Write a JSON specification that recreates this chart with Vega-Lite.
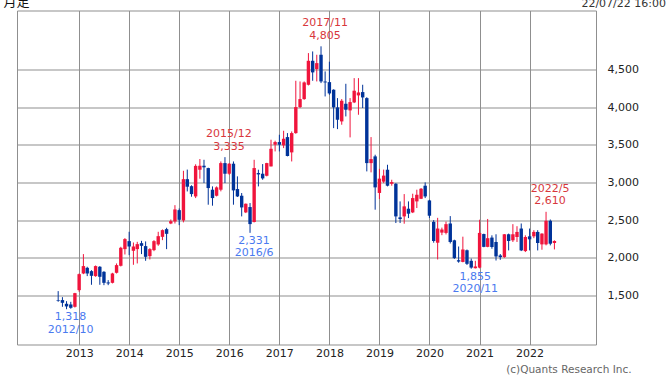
{
  "$schema": "https://vega.github.io/schema/vega-lite/v6.json",
  "width": 579,
  "height": 334,
  "autosize": {"type": "none"},
  "padding": {"left": 17, "top": 10.5, "right": 71, "bottom": 41.5},
  "background": "white",
  "title": {"text": "22/07/22 16:00", "anchor": "end", "frame": "group", "orient": "top", "dx": 70, "offset": -13, "font": "DejaVu Sans", "fontSize": 11, "fontWeight": "normal", "color": "#333"},
  "config": {
    "view": {"stroke": "#8f8f8f", "strokeWidth": 1},
    "axis": {"labelFont": "DejaVu Sans", "labelFontSize": 11, "labelColor": "#222", "gridColor": "#8f8f8f", "gridWidth": 1, "gridOpacity": 1, "ticks": false, "domain": false}
  },
  "datasets": {
    "ohlc": [
      {"d": "2012-08-01", "o": 1440, "h": 1558, "l": 1417, "c": 1432},
      {"d": "2012-09-01", "o": 1439, "h": 1478, "l": 1350, "c": 1403},
      {"d": "2012-10-01", "o": 1390, "h": 1425, "l": 1318, "c": 1355},
      {"d": "2012-11-01", "o": 1381, "h": 1416, "l": 1324, "c": 1337},
      {"d": "2012-12-01", "o": 1350, "h": 1535, "l": 1340, "c": 1531},
      {"d": "2013-01-01", "o": 1571, "h": 1792, "l": 1549, "c": 1783},
      {"d": "2013-02-01", "o": 1792, "h": 2049, "l": 1783, "c": 1890},
      {"d": "2013-03-01", "o": 1867, "h": 1881, "l": 1757, "c": 1792},
      {"d": "2013-04-01", "o": 1823, "h": 1836, "l": 1642, "c": 1761},
      {"d": "2013-05-01", "o": 1757, "h": 1898, "l": 1748, "c": 1890},
      {"d": "2013-06-01", "o": 1881, "h": 1890, "l": 1642, "c": 1748},
      {"d": "2013-07-01", "o": 1814, "h": 1823, "l": 1637, "c": 1668},
      {"d": "2013-08-01", "o": 1673, "h": 1704, "l": 1637, "c": 1660},
      {"d": "2013-09-01", "o": 1668, "h": 1801, "l": 1660, "c": 1792},
      {"d": "2013-10-01", "o": 1801, "h": 1925, "l": 1792, "c": 1903},
      {"d": "2013-11-01", "o": 1894, "h": 2146, "l": 1885, "c": 2133},
      {"d": "2013-12-01", "o": 2115, "h": 2261, "l": 2044, "c": 2248},
      {"d": "2014-01-01", "o": 2221, "h": 2345, "l": 2035, "c": 2150},
      {"d": "2014-02-01", "o": 2093, "h": 2203, "l": 1907, "c": 2150},
      {"d": "2014-03-01", "o": 2115, "h": 2212, "l": 1925, "c": 2181},
      {"d": "2014-04-01", "o": 2194, "h": 2225, "l": 2049, "c": 2159},
      {"d": "2014-05-01", "o": 2155, "h": 2217, "l": 1960, "c": 2013},
      {"d": "2014-06-01", "o": 2022, "h": 2128, "l": 1978, "c": 2115},
      {"d": "2014-07-01", "o": 2102, "h": 2234, "l": 2088, "c": 2221},
      {"d": "2014-08-01", "o": 2177, "h": 2345, "l": 2159, "c": 2287},
      {"d": "2014-09-01", "o": 2278, "h": 2376, "l": 2234, "c": 2367},
      {"d": "2014-10-01", "o": 2380, "h": 2398, "l": 2115, "c": 2318},
      {"d": "2014-11-01", "o": 2455, "h": 2508, "l": 2446, "c": 2486},
      {"d": "2014-12-01", "o": 2482, "h": 2698, "l": 2455, "c": 2641},
      {"d": "2015-01-01", "o": 2632, "h": 2654, "l": 2433, "c": 2504},
      {"d": "2015-02-01", "o": 2495, "h": 3154, "l": 2470, "c": 3043},
      {"d": "2015-03-01", "o": 3043, "h": 3170, "l": 2880, "c": 2943},
      {"d": "2015-04-01", "o": 2950, "h": 2962, "l": 2810, "c": 2845},
      {"d": "2015-05-01", "o": 2814, "h": 3240, "l": 2792, "c": 3219},
      {"d": "2015-06-01", "o": 3168, "h": 3310, "l": 3049, "c": 3221},
      {"d": "2015-07-01", "o": 3221, "h": 3300, "l": 2991, "c": 3200},
      {"d": "2015-08-01", "o": 3190, "h": 3195, "l": 2704, "c": 2925},
      {"d": "2015-09-01", "o": 2903, "h": 2947, "l": 2691, "c": 2792},
      {"d": "2015-10-01", "o": 2823, "h": 2947, "l": 2814, "c": 2934},
      {"d": "2015-11-01", "o": 2903, "h": 3278, "l": 2881, "c": 3256},
      {"d": "2015-12-01", "o": 3256, "h": 3335, "l": 2991, "c": 3115},
      {"d": "2016-01-01", "o": 3115, "h": 3256, "l": 3100, "c": 3248},
      {"d": "2016-02-01", "o": 3248, "h": 3278, "l": 2704, "c": 2894},
      {"d": "2016-03-01", "o": 2912, "h": 3080, "l": 2806, "c": 2814},
      {"d": "2016-04-01", "o": 2823, "h": 2859, "l": 2549, "c": 2668},
      {"d": "2016-05-01", "o": 2602, "h": 2720, "l": 2593, "c": 2717},
      {"d": "2016-06-01", "o": 2673, "h": 2726, "l": 2331, "c": 2447},
      {"d": "2016-07-01", "o": 2474, "h": 3300, "l": 2470, "c": 3190},
      {"d": "2016-08-01", "o": 3124, "h": 3168, "l": 2947, "c": 3106},
      {"d": "2016-09-01", "o": 3115, "h": 3243, "l": 3035, "c": 3053},
      {"d": "2016-10-01", "o": 3088, "h": 3260, "l": 3080, "c": 3256},
      {"d": "2016-11-01", "o": 3212, "h": 3566, "l": 3212, "c": 3446},
      {"d": "2016-12-01", "o": 3500, "h": 3553, "l": 3411, "c": 3535},
      {"d": "2017-01-01", "o": 3535, "h": 3632, "l": 3411, "c": 3500},
      {"d": "2017-02-01", "o": 3491, "h": 3685, "l": 3455, "c": 3579},
      {"d": "2017-03-01", "o": 3601, "h": 3654, "l": 3345, "c": 3350},
      {"d": "2017-04-01", "o": 3398, "h": 3676, "l": 3278, "c": 3654},
      {"d": "2017-05-01", "o": 3654, "h": 4348, "l": 3645, "c": 3999},
      {"d": "2017-06-01", "o": 3999, "h": 4339, "l": 3986, "c": 4105},
      {"d": "2017-07-01", "o": 4105, "h": 4339, "l": 4096, "c": 4326},
      {"d": "2017-08-01", "o": 4295, "h": 4715, "l": 4286, "c": 4613},
      {"d": "2017-09-01", "o": 4613, "h": 4737, "l": 4348, "c": 4459},
      {"d": "2017-10-01", "o": 4503, "h": 4693, "l": 4339, "c": 4582},
      {"d": "2017-11-01", "o": 4693, "h": 4805, "l": 4317, "c": 4339},
      {"d": "2017-12-01", "o": 4338, "h": 4472, "l": 4140, "c": 4326},
      {"d": "2018-01-01", "o": 4330, "h": 4601, "l": 4162, "c": 4180},
      {"d": "2018-02-01", "o": 4229, "h": 4235, "l": 3720, "c": 3995},
      {"d": "2018-03-01", "o": 3995, "h": 4118, "l": 3707, "c": 3831},
      {"d": "2018-04-01", "o": 3809, "h": 4105, "l": 3765, "c": 4083},
      {"d": "2018-05-01", "o": 4043, "h": 4308, "l": 3875, "c": 3964},
      {"d": "2018-06-01", "o": 3955, "h": 4118, "l": 3597, "c": 4065},
      {"d": "2018-07-01", "o": 4061, "h": 4383, "l": 4052, "c": 4216},
      {"d": "2018-08-01", "o": 4154, "h": 4383, "l": 3897, "c": 4193},
      {"d": "2018-09-01", "o": 4198, "h": 4295, "l": 3986, "c": 4127},
      {"d": "2018-10-01", "o": 4118, "h": 4130, "l": 3146, "c": 3256},
      {"d": "2018-11-01", "o": 3256, "h": 3601, "l": 3133, "c": 3309},
      {"d": "2018-12-01", "o": 3345, "h": 3367, "l": 2638, "c": 2934},
      {"d": "2019-01-01", "o": 2860, "h": 3180, "l": 2780, "c": 3050},
      {"d": "2019-02-01", "o": 3010, "h": 3170, "l": 2990, "c": 3090},
      {"d": "2019-03-01", "o": 3168, "h": 3234, "l": 2947, "c": 2956},
      {"d": "2019-04-01", "o": 2982, "h": 3035, "l": 2956, "c": 3004},
      {"d": "2019-05-01", "o": 2982, "h": 2990, "l": 2461, "c": 2549},
      {"d": "2019-06-01", "o": 2536, "h": 2748, "l": 2461, "c": 2514},
      {"d": "2019-07-01", "o": 2549, "h": 2845, "l": 2452, "c": 2682},
      {"d": "2019-08-01", "o": 2651, "h": 2748, "l": 2527, "c": 2585},
      {"d": "2019-09-01", "o": 2602, "h": 2850, "l": 2593, "c": 2792},
      {"d": "2019-10-01", "o": 2748, "h": 2903, "l": 2660, "c": 2836},
      {"d": "2019-11-01", "o": 2783, "h": 2925, "l": 2779, "c": 2916},
      {"d": "2019-12-01", "o": 2956, "h": 3000, "l": 2792, "c": 2814},
      {"d": "2020-01-01", "o": 2761, "h": 2770, "l": 2527, "c": 2558},
      {"d": "2020-02-01", "o": 2477, "h": 2500, "l": 2200, "c": 2223},
      {"d": "2020-03-01", "o": 2200, "h": 2530, "l": 1978, "c": 2388},
      {"d": "2020-04-01", "o": 2334, "h": 2400, "l": 2300, "c": 2375},
      {"d": "2020-05-01", "o": 2330, "h": 2480, "l": 2310, "c": 2446},
      {"d": "2020-06-01", "o": 2455, "h": 2553, "l": 2190, "c": 2210},
      {"d": "2020-07-01", "o": 2232, "h": 2240, "l": 1985, "c": 1996},
      {"d": "2020-08-01", "o": 1968, "h": 2150, "l": 1935, "c": 1950},
      {"d": "2020-09-01", "o": 1945, "h": 2280, "l": 1940, "c": 2110},
      {"d": "2020-10-01", "o": 2100, "h": 2110, "l": 1905, "c": 1920},
      {"d": "2020-11-01", "o": 1960, "h": 1990, "l": 1855, "c": 1870},
      {"d": "2020-12-01", "o": 1862, "h": 1960, "l": 1858, "c": 1885},
      {"d": "2021-01-01", "o": 1870, "h": 2505, "l": 1860, "c": 2330},
      {"d": "2021-02-01", "o": 2315, "h": 2320, "l": 2140, "c": 2145},
      {"d": "2021-03-01", "o": 2145, "h": 2515, "l": 2140, "c": 2260},
      {"d": "2021-04-01", "o": 2268, "h": 2298, "l": 2120, "c": 2143},
      {"d": "2021-05-01", "o": 2210, "h": 2312, "l": 1964, "c": 2018},
      {"d": "2021-06-01", "o": 2031, "h": 2050, "l": 1973, "c": 2009},
      {"d": "2021-07-01", "o": 2009, "h": 2315, "l": 2000, "c": 2312},
      {"d": "2021-08-01", "o": 2312, "h": 2321, "l": 2098, "c": 2223},
      {"d": "2021-09-01", "o": 2232, "h": 2446, "l": 2210, "c": 2312},
      {"d": "2021-10-01", "o": 2276, "h": 2419, "l": 2210, "c": 2343},
      {"d": "2021-11-01", "o": 2388, "h": 2455, "l": 2089, "c": 2098},
      {"d": "2021-12-01", "o": 2089, "h": 2298, "l": 2076, "c": 2276},
      {"d": "2022-01-01", "o": 2285, "h": 2388, "l": 2098, "c": 2245},
      {"d": "2022-02-01", "o": 2285, "h": 2366, "l": 2260, "c": 2343},
      {"d": "2022-03-01", "o": 2343, "h": 2366, "l": 2098, "c": 2196},
      {"d": "2022-04-01", "o": 2178, "h": 2325, "l": 2107, "c": 2321},
      {"d": "2022-05-01", "o": 2178, "h": 2610, "l": 2165, "c": 2491},
      {"d": "2022-06-01", "o": 2491, "h": 2508, "l": 2165, "c": 2187},
      {"d": "2022-07-01", "o": 2196, "h": 2232, "l": 2111, "c": 2223}
    ],
    "highs": [
      {"d": "2015-12-01", "p": 3335, "t": "2015/12\n3,335"},
      {"d": "2017-11-01", "p": 4805, "t": "2017/11\n4,805"},
      {"d": "2022-05-01", "p": 2610, "t": "2022/5\n2,610"}
    ],
    "lows": [
      {"d": "2012-10-01", "p": 1318, "t": "1,318\n2012/10"},
      {"d": "2016-06-01", "p": 2331, "t": "2,331\n2016/6"},
      {"d": "2020-11-01", "p": 1855, "t": "1,855\n2020/11"}
    ]
  },
  "encoding": {
    "x": {
      "field": "d", "type": "temporal",
      "scale": {"type": "utc", "domain": [{"year": 2011, "month": 11, "date": 11, "utc": true}, {"year": 2023, "month": 3, "date": 25, "utc": true}]},
      "axis": {
        "orient": "bottom", "grid": true, "format": "%Y", "formatType": "utc", "labelPadding": 3,
        "values": [{"year": 2013, "month": 1, "date": 1, "utc": true}, {"year": 2014, "month": 1, "date": 1, "utc": true}, {"year": 2015, "month": 1, "date": 1, "utc": true}, {"year": 2016, "month": 1, "date": 1, "utc": true}, {"year": 2017, "month": 1, "date": 1, "utc": true}, {"year": 2018, "month": 1, "date": 1, "utc": true}, {"year": 2019, "month": 1, "date": 1, "utc": true}, {"year": 2020, "month": 1, "date": 1, "utc": true}, {"year": 2021, "month": 1, "date": 1, "utc": true}, {"year": 2022, "month": 1, "date": 1, "utc": true}],
        "title": "(c)Quants Research Inc.", "titleX": 614, "titleY": 28, "titleAlign": "right", "titleBaseline": "alphabetic", "titleFont": "DejaVu Sans", "titleFontSize": 10.5, "titleFontWeight": "normal", "titleColor": "#666"
      }
    }
  },
  "layer": [
    {
      "data": {"name": "ohlc"},
      "mark": {"type": "rule", "strokeWidth": 1},
      "encoding": {
        "y": {"field": "l", "type": "quantitative", "scale": {"domain": [850, 5280], "nice": false, "zero": false},
          "axis": {"orient": "right", "grid": true, "values": [1500, 2000, 2500, 3000, 3500, 4000, 4500], "format": ",d", "labelPadding": 11,
            "title": "月足", "titleAngle": 0, "titleX": -593, "titleY": -5, "titleAlign": "left", "titleBaseline": "alphabetic", "titleFont": "Noto Sans CJK JP", "titleFontSize": 13, "titleFontWeight": "normal", "titleColor": "#111"}},
        "y2": {"field": "h"},
        "color": {"condition": {"test": "datum.c >= datum.o", "value": "#f0143c"}, "value": "#003399"}
      }
    },
    {
      "data": {"name": "ohlc"},
      "mark": {"type": "bar", "width": 3.4},
      "encoding": {
        "y": {"field": "o", "type": "quantitative"},
        "y2": {"field": "c"},
        "color": {"condition": {"test": "datum.c >= datum.o", "value": "#f0143c"}, "value": "#003399"}
      }
    },
    {
      "data": {"name": "highs"},
      "mark": {"type": "text", "lineBreak": "\n", "lineHeight": 12.5, "baseline": "bottom", "dy": -18, "dx": 4, "font": "DejaVu Sans", "fontSize": 11, "color": "#d8373c"},
      "encoding": {
        "y": {"field": "p", "type": "quantitative"},
        "text": {"field": "t"}
      }
    },
    {
      "data": {"name": "lows"},
      "mark": {"type": "text", "lineBreak": "\n", "lineHeight": 12.5, "baseline": "top", "dy": 2, "dx": 4, "font": "DejaVu Sans", "fontSize": 11, "color": "#4a7af0"},
      "encoding": {
        "y": {"field": "p", "type": "quantitative"},
        "text": {"field": "t"}
      }
    }
  ]
}
